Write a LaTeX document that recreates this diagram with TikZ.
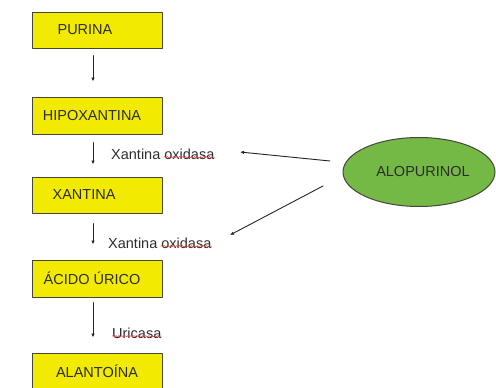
\documentclass[tikz,border=0pt]{standalone}
\usepackage{fontspec}
\setmainfont{Liberation Sans}
\usetikzlibrary{arrows.meta,decorations.pathmorphing,shapes.geometric}
\begin{document}
\begin{tikzpicture}[x=1pt,y=-1pt,line join=round,line cap=round]
	\definecolor{cajaamarilla}{RGB}{242,234,0}
	\definecolor{verdeelipse}{RGB}{116,184,70}
	\definecolor{bordegris}{RGB}{70,70,60}
	\definecolor{textogris}{RGB}{45,45,45}
	\useasboundingbox (0,0) rectangle (496,388);
	
	\tikzset{
		caja/.style={draw=bordegris,line width=1pt,fill=cajaamarilla,minimum width=130pt,minimum height=36pt,inner sep=0pt,text=textogris,font=\fontsize{14.5}{16}\selectfont},
		enzima/.style={anchor=west,inner sep=0pt,text=textogris,font=\fontsize{14.5}{16}\selectfont},
		flecha/.style={draw=black!85,line width=.9pt,-{Latex[length=4pt,width=3.5pt]}},
		subrayado/.style={draw=red!75,line width=.5pt,decorate,decoration={snake,amplitude=.6pt,segment length=3pt}}
	}
	
	% cajas de la ruta
	\def\xc{97}
	\node[caja] (purina) at (\xc,30) {\hspace*{-24pt}PURINA};
	\node[caja,minimum height=37pt] (hipox) at (\xc,115.5) {\hspace*{-10pt}HIPOXANTINA};
	\node[caja] (xantina) at (\xc,195) {\hspace*{-26pt}XANTINA};
	\node[caja,minimum height=37pt] (urico) at (\xc,278.5) {\hspace*{-10pt}ÁCIDO ÚRICO};
	\node[caja] (alantoina) at (\xc,371) {ALANTOÍNA};
	
	% flechas verticales
	\draw[flecha,shorten <=7pt,shorten >=15pt] ([xshift=-4pt]purina.south)--([xshift=-4pt]hipox.north);
	\draw[flecha,shorten <=8pt,shorten >=12pt] ([xshift=-4pt]hipox.south)--([xshift=-4pt]xantina.north);
	\draw[flecha,shorten <=10pt,shorten >=15pt] ([xshift=-4pt]xantina.south)--([xshift=-4pt]urico.north);
	\draw[flecha,shorten <=5pt,shorten >=15pt] ([xshift=-4pt]urico.south)--([xshift=-4pt]alantoina.north);
	
	% enzimas
	\node[enzima] (enz1) at (111,154) {Xantina oxidasa};
	\node[enzima] (enz2) at (108,243) {Xantina oxidasa};
	\node[enzima] (enz3) at (112,333) {Uricasa};
	\draw[subrayado] ([xshift=-51pt,yshift=2pt]enz1.base east)--([yshift=2pt]enz1.base east);
	\draw[subrayado] ([xshift=-51pt,yshift=2pt]enz2.base east)--([yshift=2pt]enz2.base east);
	\draw[subrayado] ([yshift=2pt]enz3.base west)--([yshift=2pt]enz3.base east);
	
	% inhibidor
	\node[draw=bordegris,line width=1pt,fill=verdeelipse,ellipse,minimum width=152pt,minimum height=69pt,inner sep=0pt,text=textogris,font=\fontsize{14.5}{16}\selectfont] (alop) at (419,172) {\hspace*{8pt}ALOPURINOL};
	\coordinate (c1) at (330,161);
	\coordinate (d1) at (240,152);
	\coordinate (c2) at (323,186);
	\coordinate (d2) at (230,235);
	\draw[flecha] (c1)--(d1);
	\draw[flecha] (c2)--(d2);
\end{tikzpicture}
\end{document}
